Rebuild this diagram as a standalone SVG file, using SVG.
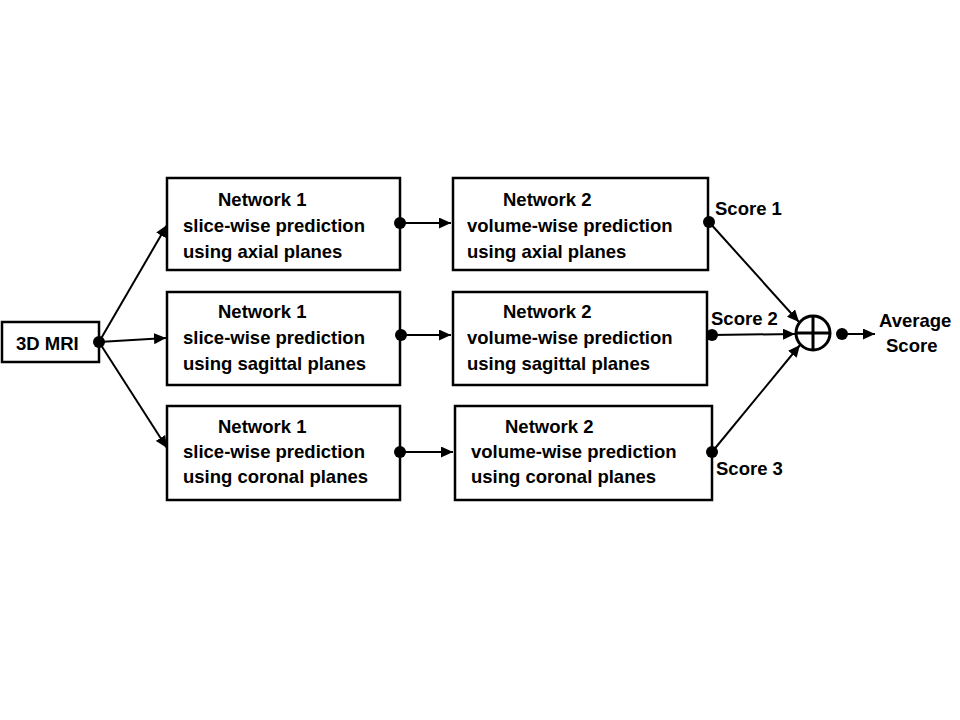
<svg xmlns="http://www.w3.org/2000/svg" width="960" height="720" viewBox="0 0 960 720">
<style>
.box{fill:#fff;stroke:#000;stroke-width:2.5}
.t{font-family:"Liberation Sans",Arial,sans-serif;font-weight:bold;font-size:18.5px;fill:#000}
.c{stroke:#000;stroke-width:2;fill:none}
.dot{fill:#000}
</style>
<defs>
<marker id="ah" viewBox="0 0 12 11" refX="12" refY="5.5" markerWidth="12" markerHeight="11" markerUnits="userSpaceOnUse" orient="auto">
<path d="M0,0 L12,5.5 L0,11 Z" fill="#000"/>
</marker>
</defs>
<rect width="960" height="720" fill="#fff"/>
<g id="mri">
<rect class="box" x="2" y="322" width="97" height="40"/>
<text class="t" x="16" y="350">3D MRI</text>
</g>
<g id="n1a">
<rect class="box" x="167" y="178" width="233" height="92"/>
<text class="t" x="218" y="206">Network 1</text>
<text class="t" x="183" y="232">slice-wise prediction</text>
<text class="t" x="183" y="258">using axial planes</text>
</g>
<g id="n1s">
<rect class="box" x="167" y="292" width="233" height="93"/>
<text class="t" x="218" y="318">Network 1</text>
<text class="t" x="183" y="344">slice-wise prediction</text>
<text class="t" x="183" y="370">using sagittal planes</text>
</g>
<g id="n1c">
<rect class="box" x="167" y="406" width="233" height="94"/>
<text class="t" x="218" y="433">Network 1</text>
<text class="t" x="183" y="458">slice-wise prediction</text>
<text class="t" x="183" y="483">using coronal planes</text>
</g>
<g id="n2a">
<rect class="box" x="453" y="178" width="255" height="92"/>
<text class="t" x="503" y="206">Network 2</text>
<text class="t" x="467" y="232">volume-wise prediction</text>
<text class="t" x="467" y="258">using axial planes</text>
</g>
<g id="n2s">
<rect class="box" x="453" y="292" width="254" height="93"/>
<text class="t" x="503" y="318">Network 2</text>
<text class="t" x="467" y="344">volume-wise prediction</text>
<text class="t" x="467" y="370">using sagittal planes</text>
</g>
<g id="n2c">
<rect class="box" x="455" y="406" width="257" height="94"/>
<text class="t" x="505" y="433">Network 2</text>
<text class="t" x="471" y="458">volume-wise prediction</text>
<text class="t" x="471" y="483">using coronal planes</text>
</g>
<g id="sum">
<circle cx="813" cy="333" r="17" fill="#fff" stroke="#000" stroke-width="3"/>
<line x1="796" y1="333" x2="830" y2="333" stroke="#000" stroke-width="3"/>
<line x1="813" y1="316" x2="813" y2="350" stroke="#000" stroke-width="3"/>
</g>
<g id="labels">
<text class="t" x="715" y="215">Score 1</text>
<text class="t" x="711" y="325">Score 2</text>
<text class="t" x="716" y="475">Score 3</text>
<text class="t" x="879" y="327">Average</text>
<text class="t" x="886" y="352">Score</text>
</g>
<g id="connectors">
<line class="c" x1="99" y1="342" x2="167" y2="225" marker-end="url(#ah)"/>
<line class="c" x1="99" y1="342" x2="166" y2="338" marker-end="url(#ah)"/>
<line class="c" x1="99" y1="342" x2="167" y2="448" marker-end="url(#ah)"/>
<line class="c" x1="400" y1="223" x2="451" y2="223" marker-end="url(#ah)"/>
<line class="c" x1="401" y1="335" x2="451" y2="335" marker-end="url(#ah)"/>
<line class="c" x1="400" y1="452" x2="453" y2="452" marker-end="url(#ah)"/>
<line class="c" x1="709" y1="222" x2="799" y2="322" marker-end="url(#ah)"/>
<line class="c" x1="712" y1="335" x2="795" y2="334" marker-end="url(#ah)"/>
<line class="c" x1="712" y1="452" x2="800" y2="345" marker-end="url(#ah)"/>
<line class="c" x1="842" y1="334" x2="875" y2="334" marker-end="url(#ah)"/>
<circle class="dot" cx="99" cy="342" r="6"/>
<circle class="dot" cx="400" cy="223" r="6"/>
<circle class="dot" cx="401" cy="335" r="6"/>
<circle class="dot" cx="400" cy="452" r="6"/>
<circle class="dot" cx="709" cy="222" r="6"/>
<circle class="dot" cx="712" cy="335" r="6"/>
<circle class="dot" cx="712" cy="452" r="6"/>
<circle class="dot" cx="842" cy="334" r="6"/>
</g>
</svg>
